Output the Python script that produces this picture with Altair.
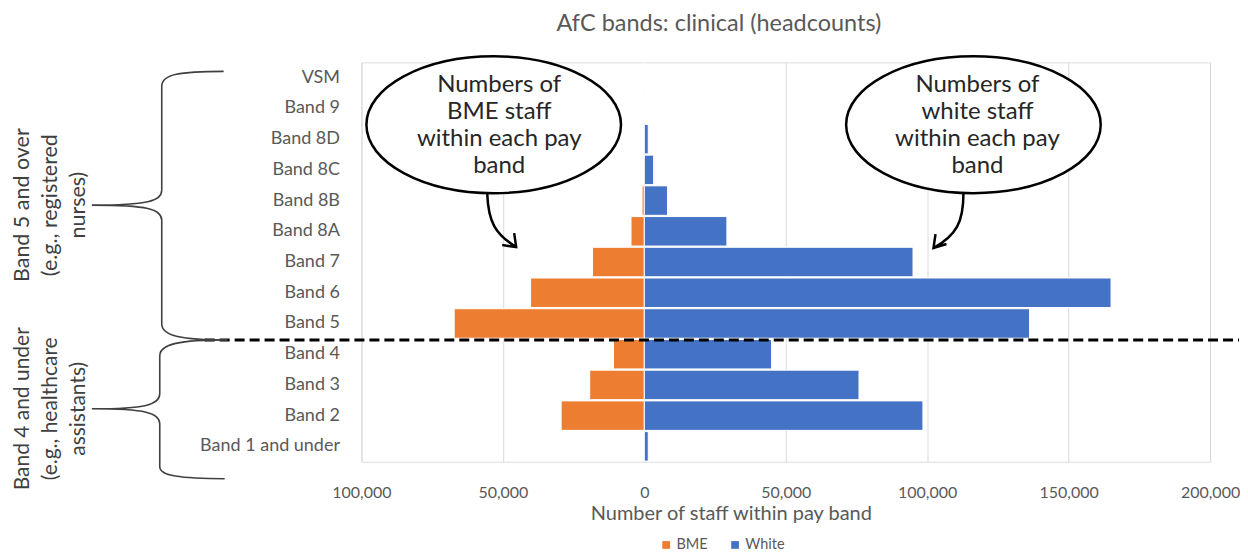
import altair as alt
import pandas as pd

bands = ["VSM", "Band 9", "Band 8D", "Band 8C", "Band 8B", "Band 8A", "Band 7",
         "Band 6", "Band 5", "Band 4", "Band 3", "Band 2", "Band 1 and under"]
bme = [0, 0, 0, 0, 800, 4700, 18300, 40200, 67200, 10900, 19300, 29400, 0]
white = [0, 0, 1400, 3300, 8200, 29200, 95000, 165000, 136200, 45000, 75900, 98500, 1400]

series = ["BME", "White"]
colors = ["#ED7D31", "#4472C4"]
ticks = [-100000, -50000, 0, 50000, 100000, 150000, 200000]

title_text = "AfC bands: clinical (headcounts)"
x_title = "Number of staff within pay band"
bubble_bme = ["Numbers of", "BME staff", "within each pay", "band"]
bubble_white = ["Numbers of", "white staff", "within each pay", "band"]
group_top = ["Band 5 and over", "(e.g., registered", "nurses)"]
group_bottom = ["Band 4 and under", "(e.g., healthcare", "assistants)"]

rows = []
for b, v in zip(bands, bme):
    rows.append({"band": b, "series": "BME", "count": v})
for b, v in zip(bands, white):
    rows.append({"band": b, "series": "White", "count": v})
df = pd.DataFrame(rows)
one = pd.DataFrame({"k": [0]})

FONT = "Lato"
GREY = "#595959"
W, H = 850, 400

bars = alt.Chart(df).transform_calculate(
    value="datum.series === 'BME' ? -datum.count : datum.count"
).mark_bar(stroke="white", strokeWidth=1).encode(
    y=alt.Y("band:N", sort=bands, title=None,
            scale=alt.Scale(paddingInner=0.04, paddingOuter=0.02),
            axis=alt.Axis(ticks=False, domain=False, labelPadding=22,
                          labelFont=FONT, labelFontSize=18, labelColor=GREY)),
    x=alt.X("value:Q", title=x_title,
            scale=alt.Scale(domain=[-100000, 200000], nice=False, zero=False),
            axis=alt.Axis(values=ticks, labelExpr="format(abs(datum.value), ',')",
                          ticks=False, domain=False, grid=True, gridColor="#D9D9D9",
                          gridWidth=1, labelPadding=23, labelFlush=False,
                          labelFont=FONT, labelFontSize=16,
                          labelColor=GREY, titleFont=FONT, titleFontSize=20,
                          titleFontWeight="normal", titleColor=GREY,
                          titleX=370, titleY=52, titleBaseline="middle")),
    color=alt.Color("series:N", scale=alt.Scale(domain=series, range=colors),
                    legend=alt.Legend(orient="none", legendX=298, legendY=476,
                                      direction="horizontal", title=None,
                                      symbolType="square", symbolSize=60,
                                      symbolStrokeWidth=0, labelFont=FONT,
                                      labelFontSize=14.5, labelColor=GREY,
                                      columnPadding=20, labelOffset=3, padding=0)),
)

divider = alt.Chart(one).mark_rule(color="black", strokeWidth=3, strokeDash=[10, 5]).encode(
    x=alt.value(-157), x2=alt.value(879), y=alt.value(278)
)

brace_path = ("M -138 9 C -182 9 -200 12 -200 24 L -200 128 C -200 139 -214 143 -270 143 "
              "C -214 143 -200 147 -200 158 L -200 262 C -200 274 -180 278 -134 278 "
              "M -134 278 C -182 278 -202 282 -202 294 L -202 332 C -202 343 -216 347 -270 347 "
              "C -216 347 -202 351 -202 362 L -202 405 C -202 414 -182 417 -137 417")
braces = alt.Chart(one).mark_point(shape=brace_path, size=4, filled=False, stroke="#404040",
                                   strokeWidth=1.6, opacity=1).encode(
    x=alt.value(0), y=alt.value(0)
)

arrow_path = ("M 126 131 C 127 160 134 172 155 185 M 141 183 L 155 185 L 153 171 "
              "M 603 131 C 603 160 596 173 573 186 M 575 172 L 573 186 L 586 182")
arrows = alt.Chart(one).mark_point(shape=arrow_path, size=4, filled=False, stroke="black",
                                   strokeWidth=2.5, opacity=1).encode(
    x=alt.value(0), y=alt.value(0)
)

ell = ("M -127.5 0 C -127.5 -37.8 -70.4 -68.5 0 -68.5 C 70.4 -68.5 127.5 -37.8 127.5 0 "
       "C 127.5 37.8 70.4 68.5 0 68.5 C -70.4 68.5 -127.5 37.8 -127.5 0 Z")
ellipse1 = alt.Chart(one).mark_point(shape=ell, size=4, filled=True, fill="white", stroke="black",
                                     strokeWidth=2.5, opacity=1).encode(
    x=alt.value(132.5), y=alt.value(62.5)
)
ellipse2 = alt.Chart(one).mark_point(shape=ell, size=4, filled=True, fill="white", stroke="black",
                                     strokeWidth=2.5, opacity=1).encode(
    x=alt.value(613), y=alt.value(62.5)
)

def txt(lines, x, y, angle=0, size=24, lh=27, color="#262626"):
    return alt.Chart(one).mark_text(text=lines, font=FONT, fontSize=size, lineHeight=lh,
                                    color=color, align="center", baseline="middle",
                                    angle=angle).encode(x=alt.value(x), y=alt.value(y))

t1 = txt(bubble_bme, 138, 23)
t2 = txt(bubble_white, 617, 23)
t3 = txt(group_top, -339, 143, angle=270, size=21.5, lh=28, color="#404040")
t4 = txt(group_bottom, -339, 347, angle=270, size=21, lh=28, color="#404040")

chart = alt.layer(bars, divider, braces, arrows, ellipse1, ellipse2, t1, t2, t3, t4).properties(
    width=W, height=H,
    title=alt.TitleParams(title_text, font=FONT, fontSize=23.5, fontWeight="normal", color=GREY,
                          anchor="middle", frame="group", dx=-67, dy=-12),
    autosize=alt.AutoSizeParams(type="none"),
    padding={"left": 354, "top": 54, "right": 30, "bottom": 91},
).configure_view(stroke=None).configure(background="white")

chart.save("out.html", embed_options={"renderer": "svg", "actions": False})
